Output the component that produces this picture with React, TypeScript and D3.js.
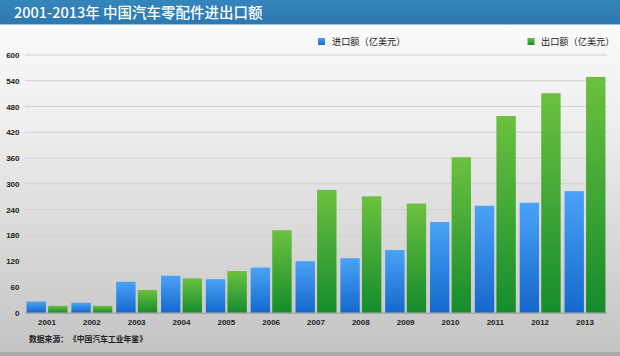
import React from "react";
import * as d3 from "d3";

const years = ["2001","2002","2003","2004","2005","2006","2007","2008","2009","2010","2011","2012","2013"];
const importValues = [26, 23, 72, 86, 78, 105, 120, 127, 146, 211, 249, 256, 283];
const exportValues = [16, 16, 53, 80, 97, 192, 286, 271, 254, 362, 458, 511, 549];
const yTicks = [0, 60, 120, 180, 240, 300, 360, 420, 480, 540, 600];
const seriesNames = ["进口额（亿美元）", "出口额（亿美元）"];
const title = "2001-2013年 中国汽车零配件进出口额";
const sourceLabel = "数据来源：";
const sourceName = "《中国汽车工业年鉴》";

const W = 620, H = 356;

export default function App() {
  const x = d3.scaleBand<string>().domain(years).range([24.6, 607.4]).paddingInner(0).paddingOuter(0);
  const y = d3.scaleLinear().domain([0, 600]).range([312.7, 55]);
  const inner = d3.scaleBand<string>().domain(["imp", "exp"]).range([0, x.bandwidth()]).paddingInner(0.1).paddingOuter(0.09);
  const num = "'Liberation Sans', Arial, sans-serif";
  const cjk = "'Noto Sans CJK SC', sans-serif";
  return (
    <svg width={W} height={H} style={{ position: "absolute", left: 0, top: 0, display: "block" }}>
      <defs>
        <linearGradient id="bg" x1="0" y1="0" x2="0" y2="1">
          <stop offset="0" stopColor="#fdfdfd" />
          <stop offset="0.35" stopColor="#eeeeee" />
          <stop offset="1" stopColor="#c3c3c3" />
        </linearGradient>
        <linearGradient id="hdr" x1="0" y1="0" x2="0" y2="1">
          <stop offset="0" stopColor="#3585bd" />
          <stop offset="1" stopColor="#2d79b0" />
        </linearGradient>
        <linearGradient id="gb" x1="0" y1="0" x2="0" y2="1">
          <stop offset="0" stopColor="#4aa3f7" />
          <stop offset="1" stopColor="#1468cc" />
        </linearGradient>
        <linearGradient id="gg" x1="0" y1="0" x2="0" y2="1">
          <stop offset="0" stopColor="#6cc13f" />
          <stop offset="1" stopColor="#158c2c" />
        </linearGradient>
      </defs>
      <rect x={0} y={0} width={W} height={H} fill="url(#bg)" />
      <rect x={0} y={352} width={W} height={4} fill="#a9a9a9" />
      <rect x={0} y={0} width={W} height={24} fill="url(#hdr)" />
      <rect x={0} y={24} width={W} height={1} fill="#9cc4e0" />
      <text x={14} y={17.5} fill="#ffffff" fontSize={14.5} fontFamily={cjk} fontWeight={500}>{title}</text>

      {yTicks.map((t) => (
        <g key={t}>
          {t > 0 && <line x1={25} x2={607} y1={y(t)} y2={y(t)} stroke="#d2d2d2" strokeWidth={1} />}
          <text x={19.5} y={y(t) + 3} textAnchor="end" fontSize={8} fontWeight="bold" fontFamily={num} fill="#222">{t}</text>
        </g>
      ))}

      {years.map((yr, i) => (
        <g key={yr}>
          <rect x={x(yr)! + inner("imp")!} y={y(importValues[i])} width={inner.bandwidth()} height={y(0) - y(importValues[i])} fill="url(#gb)" />
          <rect x={x(yr)! + inner("exp")!} y={y(exportValues[i])} width={inner.bandwidth()} height={y(0) - y(exportValues[i])} fill="url(#gg)" />
          <text x={x(yr)! + x.bandwidth() / 2} y={324.5} textAnchor="middle" fontSize={8} fontWeight="bold" fontFamily={num} fill="#222">{yr}</text>
        </g>
      ))}
      <line x1={25} x2={607} y1={y(0) + 0.5} y2={y(0) + 0.5} stroke="#9a9a9a" strokeWidth={1} />

      <rect x={318} y={38} width={7} height={7} fill="url(#gb)" />
      <text x={332} y={45} fontSize={9.2} fontFamily={cjk} fill="#222">{seriesNames[0]}</text>
      <rect x={527.5} y={38} width={7} height={7} fill="url(#gg)" />
      <text x={541} y={45} fontSize={9.2} fontFamily={cjk} fill="#222">{seriesNames[1]}</text>

      <text y={342} fontSize={7.8} fontFamily={cjk} fontWeight="bold" fill="#222">
        <tspan x={29}>{sourceLabel}</tspan>
        <tspan x={69}>{sourceName}</tspan>
      </text>
    </svg>
  );
}
